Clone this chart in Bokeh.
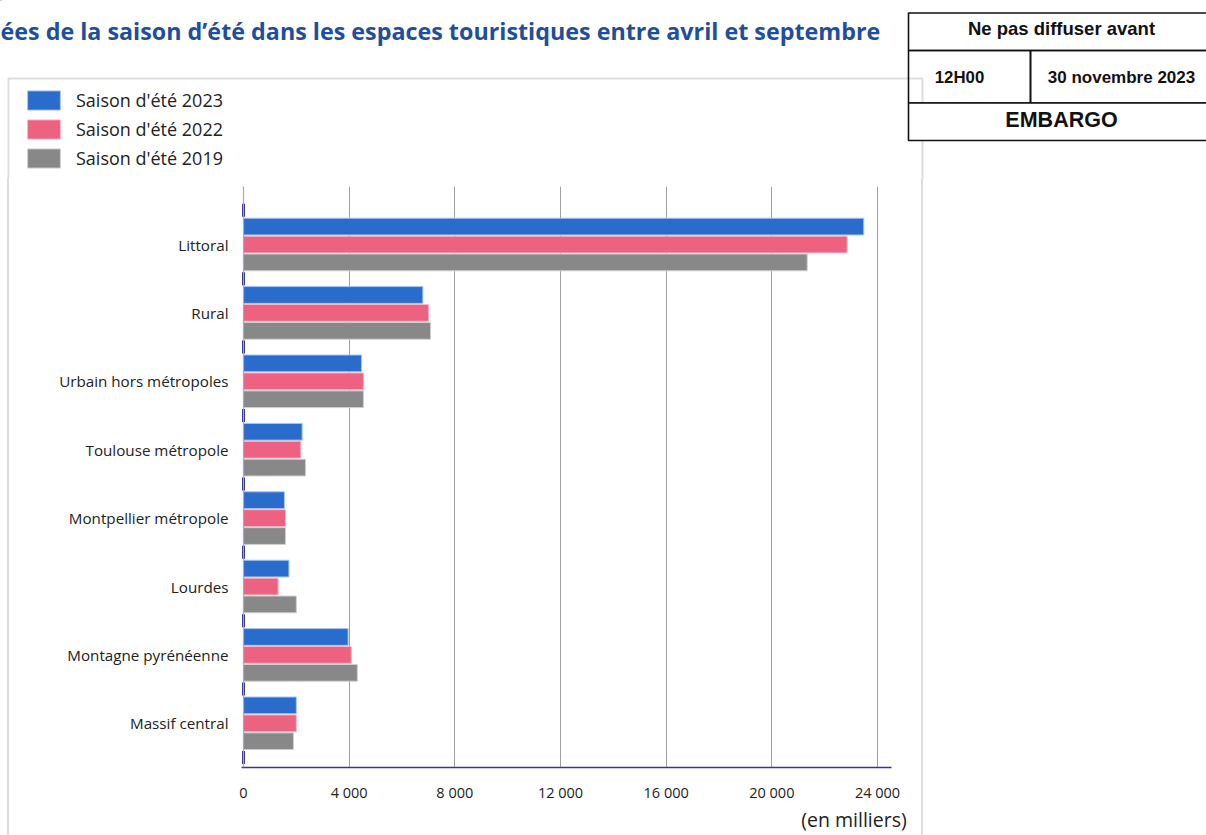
from bokeh.plotting import figure
from bokeh.models import (Range1d, FixedTicker, LinearAxis, Legend, LegendItem, Span,
                          Div, Spacer)
from bokeh.layouts import column, row
from bokeh.core.properties import value
from bokeh.embed import file_html
from bokeh.resources import INLINE

# ---------------- data ----------------
categories = ["Littoral", "Rural", "Urbain hors métropoles", "Toulouse métropole",
              "Montpellier métropole", "Lourdes", "Montagne pyrénéenne", "Massif central"]
s2023 = [23480, 6790, 4470, 2220, 1550, 1720, 3960, 2000]
s2022 = [22850, 7010, 4540, 2170, 1590, 1310, 4080, 2000]
s2019 = [21340, 7080, 4540, 2350, 1590, 2000, 4310, 1890]
series_names = ["Saison d'été 2023", "Saison d'été 2022", "Saison d'été 2019"]
x_ticks = [0, 4000, 8000, 12000, 16000, 20000, 24000]
x_tick_labels = ["0", "4 000", "8 000", "12 000", "16 000", "20 000", "24 000"]
title_text = "ées de la saison d’été dans les espaces touristiques entre avril et septembre"
unit_text = "(en milliers)"
embargo_texts = ["Ne pas diffuser avant", "12H00", "30 novembre 2023", "EMBARGO"]

# ---------------- styles ----------------
fills = ["#296CCC", "#EC6280", "#888888"]
edges = ["#A9C4EE", "#F5B8C6", "#D0D0D0"]
FONT = "Open Sans"
BOX_GRAY = "#DDDDDD"
HDR_H = 178          # height of header strip
TOTAL_W, TOTAL_H = 1206, 835
BOX_L, BOX_R = 8, 922   # gray chart box vertical lines (page px)


def blank_fig(w, h, x0, x1, y0, y1):
    f = figure(width=w, height=h, output_backend="svg", toolbar_location=None,
               x_range=Range1d(x0, x1), y_range=Range1d(y0, y1),
               x_axis_type=None, y_axis_type=None, min_border=0)
    f.outline_line_color = None
    f.background_fill_color = "white"
    f.border_fill_color = "white"
    return f


# ---------------- header (title, legend, embargo) ----------------
hdr = blank_fig(TOTAL_W, HDR_H, 0, TOTAL_W, HDR_H, 0)

# gray chart box (top part)
hdr.multi_line(xs=[[BOX_L, BOX_L, BOX_R, BOX_R]], ys=[[HDR_H + 5, 78, 78, HDR_H + 5]],
               line_color=BOX_GRAY, line_width=2)

hdr.text(x=[0], y=[30], text=[title_text], text_font=value(FONT),
         text_font_style="bold", text_font_size="23.3px", text_color="#1F4E9C",
         text_baseline="middle", text_align="left")

# embargo box
hdr.quad(left=[908, 908, 1030, 908], right=[1215, 1030, 1215, 1215],
         top=[12.5, 50, 50, 102.5], bottom=[50, 102.5, 102.5, 140],
         fill_color=[None, None, None, "white"], fill_alpha=[0, 0, 0, 1],
         line_color="#111111", line_width=1.6)
emb_x = [1061, 959, 1121, 1061]
emb_y = [28, 77, 77, 119]
emb_fs = ["18.5px", "16.8px", "17px", "21.5px"]
for t, x, y, fs in zip(embargo_texts, emb_x, emb_y, emb_fs):
    hdr.text(x=[x], y=[y], text=[t], text_font=value("Liberation Sans"),
             text_font_style="bold", text_font_size=fs, text_color="#111111",
             text_baseline="middle", text_align="center")

# legend (swatch renderers styled like the bars, placed off-canvas)
swatches = [hdr.hbar(y=[-500], left=[0], right=[1], height=1, fill_color=fc,
                     line_color=lc, line_width=1)
            for fc, lc in zip(fills, edges)]
legend = Legend(items=[LegendItem(label=n, renderers=[r]) for n, r in zip(series_names, swatches)],
                location=(23, 8), orientation="vertical",
                glyph_width=41, glyph_height=24, label_height=24, spacing=5,
                padding=0, margin=0, label_standoff=12,
                border_line_color=None, background_fill_alpha=0,
                label_text_font=FONT, label_text_font_size="18px",
                label_text_color="#222222")
hdr.add_layout(legend)

# ---------------- main chart ----------------
MAIN_H = TOTAL_H - HDR_H
P_LEFT = BOX_L + 1          # page x where the main figure starts
P_RIGHT = BOX_R - 1         # page x where it ends
FRAME_L, FRAME_R = 241, 891          # page px
FRAME_T, FRAME_B = 186, 767

p = figure(width=P_RIGHT - P_LEFT, height=MAIN_H, output_backend="svg", toolbar_location=None,
           x_range=Range1d(-76, 24530), y_range=Range1d(8.146, -0.348),
           min_border_left=FRAME_L - P_LEFT, min_border_right=P_RIGHT - FRAME_R,
           min_border_top=FRAME_T - HDR_H, min_border_bottom=TOTAL_H - FRAME_B)
p.outline_line_color = None
p.background_fill_color = "white"
p.border_fill_color = "white"

centers = [i + 0.5 for i in range(len(categories))]
offsets = [-0.262, 0.0, 0.262]
series = [s2023, s2022, s2019]

for vals, off, fc, lc in zip(series, offsets, fills, edges):
    p.hbar(y=[c + off for c in centers], left=0, right=vals, height=0.245,
           fill_color=fc, line_color=lc, line_width=1)

# baseline at x = 0 with darker category separators
p.add_layout(Span(location=0, dimension="height", line_color="#A4A4D6", line_width=1.2))
bounds = list(range(len(categories) + 1))
p.segment(x0=0, x1=0, y0=[b - 0.095 for b in bounds], y1=[b + 0.095 for b in bounds],
          line_color="#30308F", line_width=3)

# axes
p.xaxis.ticker = FixedTicker(ticks=x_ticks)
p.xaxis.major_label_overrides = dict(zip(x_ticks, x_tick_labels))
p.xaxis.axis_line_color = "#34349A"
p.xaxis.axis_line_width = 1.5
p.xaxis.major_tick_line_color = None
p.xaxis.major_tick_out = 0
p.xaxis.major_tick_in = 0
p.xaxis.minor_tick_line_color = None
p.xaxis.minor_tick_out = 0
p.xaxis.major_label_standoff = 15
p.xaxis.major_label_text_font = FONT
p.xaxis.major_label_text_font_size = "14.5px"
p.xaxis.major_label_text_color = "#222222"

unit_pos = 23110   # where the unit note is centred along the value axis
unit_axis = LinearAxis(ticker=FixedTicker(ticks=[unit_pos]),
                       major_label_overrides={unit_pos: unit_text},
                       axis_line_color=None, major_tick_line_color=None,
                       minor_tick_line_color=None, major_tick_out=0, major_tick_in=0,
                       minor_tick_out=0, major_label_standoff=1,
                       major_label_text_font=FONT, major_label_text_font_size="19.5px",
                       major_label_text_color="#222222")
p.add_layout(unit_axis, "below")

p.yaxis.ticker = FixedTicker(ticks=centers)
p.yaxis.major_label_overrides = dict(zip(centers, categories))
p.yaxis.axis_line_color = None
p.yaxis.major_tick_line_color = None
p.yaxis.major_tick_out = 0
p.yaxis.major_tick_in = 0
p.yaxis.minor_tick_line_color = None
p.yaxis.minor_tick_out = 0
p.yaxis.major_label_standoff = 13
p.yaxis.major_label_text_font = FONT
p.yaxis.major_label_text_font_size = "15.2px"
p.yaxis.major_label_text_color = "#222222"

p.xgrid.ticker = FixedTicker(ticks=x_ticks)
p.xgrid.grid_line_color = "#A0A0A0"
p.xgrid.grid_line_width = 1
p.ygrid.visible = False

# thin gray side bands carrying the chart-box lines
gray_line = {"background-color": BOX_GRAY}
left_pad = Spacer(width=BOX_L - 1, height=MAIN_H, margin=0)
left_line = Div(text="", width=2, height=MAIN_H, styles=gray_line, margin=0)
right_line = Div(text="", width=2, height=MAIN_H, styles=gray_line, margin=0)
right_pad = Spacer(width=TOTAL_W - (P_RIGHT + 2), height=MAIN_H, margin=0)
# left_line occupies BOX_L-1..BOX_L+1, so p starts at BOX_L+1 = P_LEFT

layout = column(hdr, row(left_pad, left_line, p, right_line, right_pad, spacing=0), spacing=0)

open("out.html", "w").write(file_html(layout, INLINE))
